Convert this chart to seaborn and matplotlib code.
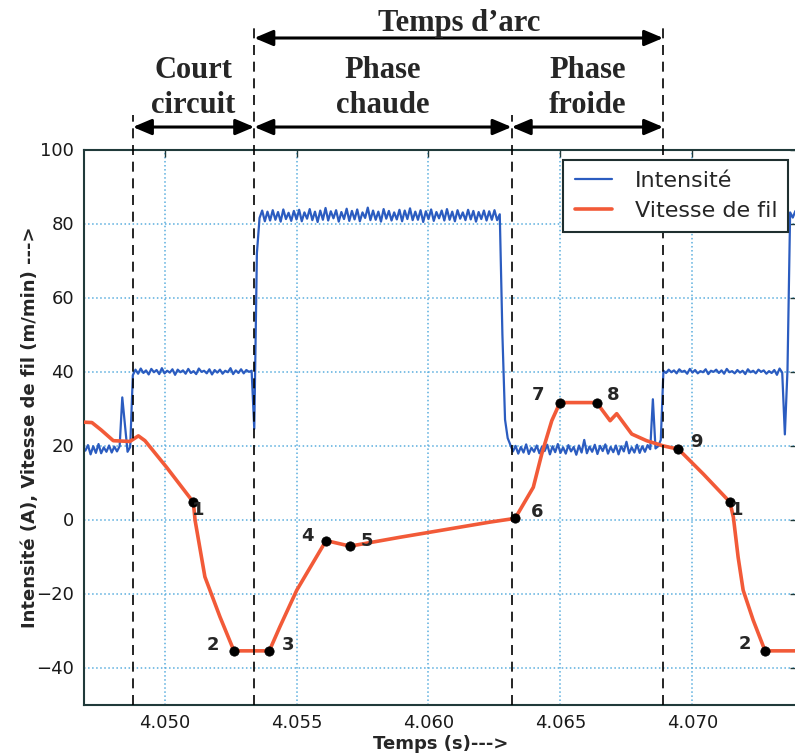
import numpy as np
import pandas as pd
import matplotlib
matplotlib.use('Agg')
import matplotlib.pyplot as plt
import seaborn as sns

# Intensité relevée toutes les 0.1 ms à partir de 4.0470 s
t_start = 4.0470
t_step = 0.0001
intensite = [
    18.6, 20.1, 17.6, 19.8, 18.0, 20.4, 17.9, 19.5, 18.3, 20.0,
    18.1, 19.7, 18.4, 19.8, 33.0, 25.5, 18.3, 19.6, 39.0, 40.5,
    39.4, 40.8, 39.6, 40.3, 39.2, 40.7, 39.8, 40.4, 39.3, 40.9,
    39.5, 40.2, 39.7, 40.6, 39.1, 40.5, 39.8, 40.3, 39.4, 40.7,
    39.6, 40.1, 39.3, 40.8, 39.9, 40.2, 39.5, 40.6, 39.2, 40.4,
    39.7, 40.5, 39.4, 40.2, 39.8, 40.9, 39.3, 40.3, 39.6, 40.6,
    39.5, 40.4, 39.9, 40.2, 24.5, 72.0, 81.5, 83.5, 80.6, 83.2,
    80.8, 83.6, 81.0, 83.1, 80.5, 83.8, 81.2, 82.9, 80.7, 83.4,
    81.1, 83.7, 80.6, 83.0, 81.3, 83.9, 80.9, 83.2, 80.4, 83.5,
    81.0, 84.2, 80.8, 83.3, 81.4, 83.6, 80.5, 83.1, 81.2, 84.0,
    80.7, 83.4, 81.1, 83.8, 80.6, 83.0, 81.5, 84.3, 80.9, 83.5,
    81.0, 83.2, 80.5, 83.9, 81.3, 83.4, 80.8, 83.0, 81.1, 83.7,
    80.6, 83.5, 81.2, 84.1, 80.9, 83.2, 81.0, 83.6, 80.4, 83.3,
    81.2, 83.8, 80.7, 83.1, 81.4, 83.5, 80.8, 83.9, 81.0, 83.2,
    80.6, 83.6, 81.3, 83.0, 80.9, 83.7, 81.1, 83.4, 80.5, 83.1,
    81.2, 83.5, 80.8, 83.3, 81.0, 83.6, 80.9, 82.5, 50.0, 27.0,
    22.0, 20.2, 18.4, 19.9, 17.8, 19.6, 18.1, 20.3, 17.7, 19.4,
    18.3, 20.0, 17.9, 19.7, 18.5, 20.2, 17.6, 19.8, 18.2, 20.4,
    18.0, 19.5, 17.8, 20.1, 18.4, 19.6, 17.5, 20.0, 18.1, 21.5,
    17.9, 19.7, 18.3, 20.2, 17.7, 19.9, 18.5, 20.3, 17.8, 19.6,
    18.2, 20.0, 17.6, 19.8, 18.4, 21.0, 17.9, 19.5, 18.1, 20.2,
    18.0, 19.8, 18.3, 20.1, 19.0, 32.5, 19.2, 19.8, 21.5, 40.2,
    39.6, 40.5, 39.8, 40.3, 39.5, 40.6, 39.9, 40.2, 39.4, 40.7,
    39.7, 40.4, 39.5, 40.1, 39.8, 40.6, 39.3, 40.2, 39.9, 40.5,
    39.6, 40.3, 39.4, 40.7, 39.8, 40.1, 39.5, 40.4, 39.7, 40.2,
    39.3, 40.6, 39.8, 40.2, 39.5, 40.5, 39.9, 40.3, 39.4, 40.1,
    39.6, 40.4, 39.1, 40.8, 39.7, 23.0, 40.5, 83.0, 81.6, 83.4,
]

# Vitesse de fil
vit_t = [4.04695, 4.04725, 4.04760, 4.04806, 4.04869, 4.04901, 4.04926, 4.05008,
         4.05109, 4.05116, 4.05153, 4.05210, 4.05263, 4.05397, 4.05437, 4.05501,
         4.05612, 4.05703, 4.05892, 4.06233, 4.06328, 4.06397, 4.06429, 4.06467,
         4.06498, 4.06637, 4.06688, 4.06713, 4.06770, 4.06826, 4.06889, 4.06947,
         4.07041, 4.07142, 4.07155, 4.07173, 4.07192, 4.07230, 4.07275, 4.07400]
vit_v = [26.3, 26.2, 24.2, 21.3, 21.1, 22.6, 21.3, 14.1,
         4.7, -0.3, -15.5, -26.3, -35.5, -35.5, -29.0, -19.1,
         -5.7, -7.2, -4.8, -0.7, 0.3, 8.7, 17.7, 26.7,
         31.6, 31.6, 26.7, 28.6, 23.1, 21.3, 19.9, 19.0,
         12.3, 4.7, 0.6, -10.2, -19.1, -27.2, -35.5, -35.5]

# points numérotés
pts_t = [4.05109, 4.05263, 4.05397, 4.05612, 4.05703, 4.06328, 4.06498, 4.06637, 4.06947, 4.07142, 4.07275]
pts_v = [4.7, -35.5, -35.5, -5.7, -7.2, 0.3, 31.6, 31.6, 19.0, 4.7, -35.5]
pts_lab = ['1', '2', '3', '4', '5', '6', '7', '8', '9', '1', '2']

# limites des phases
t_cc, t_arc, t_froid, t_fin = 4.04880, 4.05340, 4.06315, 4.06889

x_ticks = [4.050, 4.055, 4.060, 4.065, 4.070]
y_ticks = [-40, -20, 0, 20, 40, 60, 80, 100]

df_i = pd.DataFrame({'t': t_start + t_step * np.arange(len(intensite)), 'i': intensite})
df_v = pd.DataFrame({'t': vit_t, 'v': vit_v})
df_p = pd.DataFrame({'t': pts_t, 'v': pts_v, 'lab': pts_lab})

sns.set_style('white')
plt.rcParams['font.family'] = ['DejaVu Sans']

fig = plt.figure(figsize=(7.95, 7.56), dpi=100)
ax = fig.add_axes([84 / 795, 51.5 / 756, 713 / 795, 555 / 756])

sns.lineplot(data=df_i, x='t', y='i', ax=ax, color='#2b5cc0', lw=1.6, label='Intensité',
             estimator=None, sort=False, zorder=2)
sns.lineplot(data=df_v, x='t', y='v', ax=ax, color='#f25a38', lw=2.6, label='Vitesse de fil',
             estimator=None, sort=False, zorder=3)
sns.scatterplot(data=df_p, x='t', y='v', ax=ax, color='black', s=45, zorder=6, legend=False,
                edgecolor='black')

lab_off = [(5, -8), (-21, 6), (19, 6), (-19, 5), (17, 5), (22, 6), (-22, 8), (17, 8), (18, 7), (7, -8), (-20, 7)]
for x, y, s, (dx, dy) in zip(df_p['t'], df_p['v'], df_p['lab'], lab_off):
    ax.annotate(s, (x, y), xytext=(dx, dy), textcoords='offset pixels', ha='center', va='center',
                fontsize=13, fontweight='bold', zorder=7)

ax.set_xlim(4.04695, 4.07396)
ax.set_ylim(-50, 100)
ax.set_xticks(x_ticks)
ax.set_xticklabels(['%.3f' % v for v in x_ticks])
ax.set_yticks(y_ticks)
ax.grid(True, ls=':', color='#5aaede', lw=1.1)
ax.tick_params(direction='in', length=5, width=1, top=True, right=True, labelsize=13, pad=7,
               labelcolor='#1a1a1a', color='#203a3a')
for sp in ax.spines.values():
    sp.set_color('#203a3a')
    sp.set_linewidth(1.5)

ax.set_xlabel('Temps (s)--->', fontsize=13, fontweight='bold', labelpad=2)
ax.set_ylabel('Intensité (A), Vitesse de fil (m/min) --->', fontsize=13, fontweight='bold')
ax.yaxis.set_label_coords(-0.063, 0.5)

# lignes pointillées des phases, prolongées au-dessus du graphe
trans = ax.get_xaxis_transform()
for t, top in zip([t_cc, t_arc, t_froid, t_fin], [1.0622, 1.2297, 1.0622, 1.2297]):
    ax.plot([t, t], [0, top], transform=trans, color='black', ls=(0, (6, 4)), lw=1.2,
            clip_on=False, zorder=4)

fl = dict(arrowstyle='<|-|>,head_length=0.45,head_width=0.19', color='black', lw=2.2,
          mutation_scale=25, shrinkA=0, shrinkB=0)
for x1, x2, y in [(t_arc, t_fin, 1.2009), (t_cc, t_arc, 1.0405), (t_arc, t_froid, 1.0405),
                  (t_froid, t_fin, 1.0405)]:
    ax.annotate('', xy=(x2, y), xytext=(x1, y), xycoords=trans, textcoords=trans, arrowprops=fl)

serif = dict(family='Liberation Serif', fontweight='bold', fontsize=22, ha='center', va='baseline',
             transform=trans, linespacing=1.25)
ax.text((t_arc + t_fin) / 2, 1.2135, 'Temps d’arc', **serif)
ax.text((t_cc + t_arc) / 2, 1.0658, 'Court\ncircuit', **serif)
ax.text((t_arc + t_froid) / 2, 1.0658, 'Phase\nchaude', **serif)
ax.text((t_froid + t_fin) / 2, 1.0658, 'Phase\nfroide', **serif)

leg = ax.legend(loc='upper right', bbox_to_anchor=(0.9878, 0.981), borderaxespad=0, fontsize=16,
                fancybox=False, framealpha=1, edgecolor='#1f2f2f', handlelength=1.7,
                handletextpad=1.0, borderpad=0.5, labelspacing=0.45)
leg.get_frame().set_linewidth(1.5)

fig.savefig('out.png', dpi=100)
